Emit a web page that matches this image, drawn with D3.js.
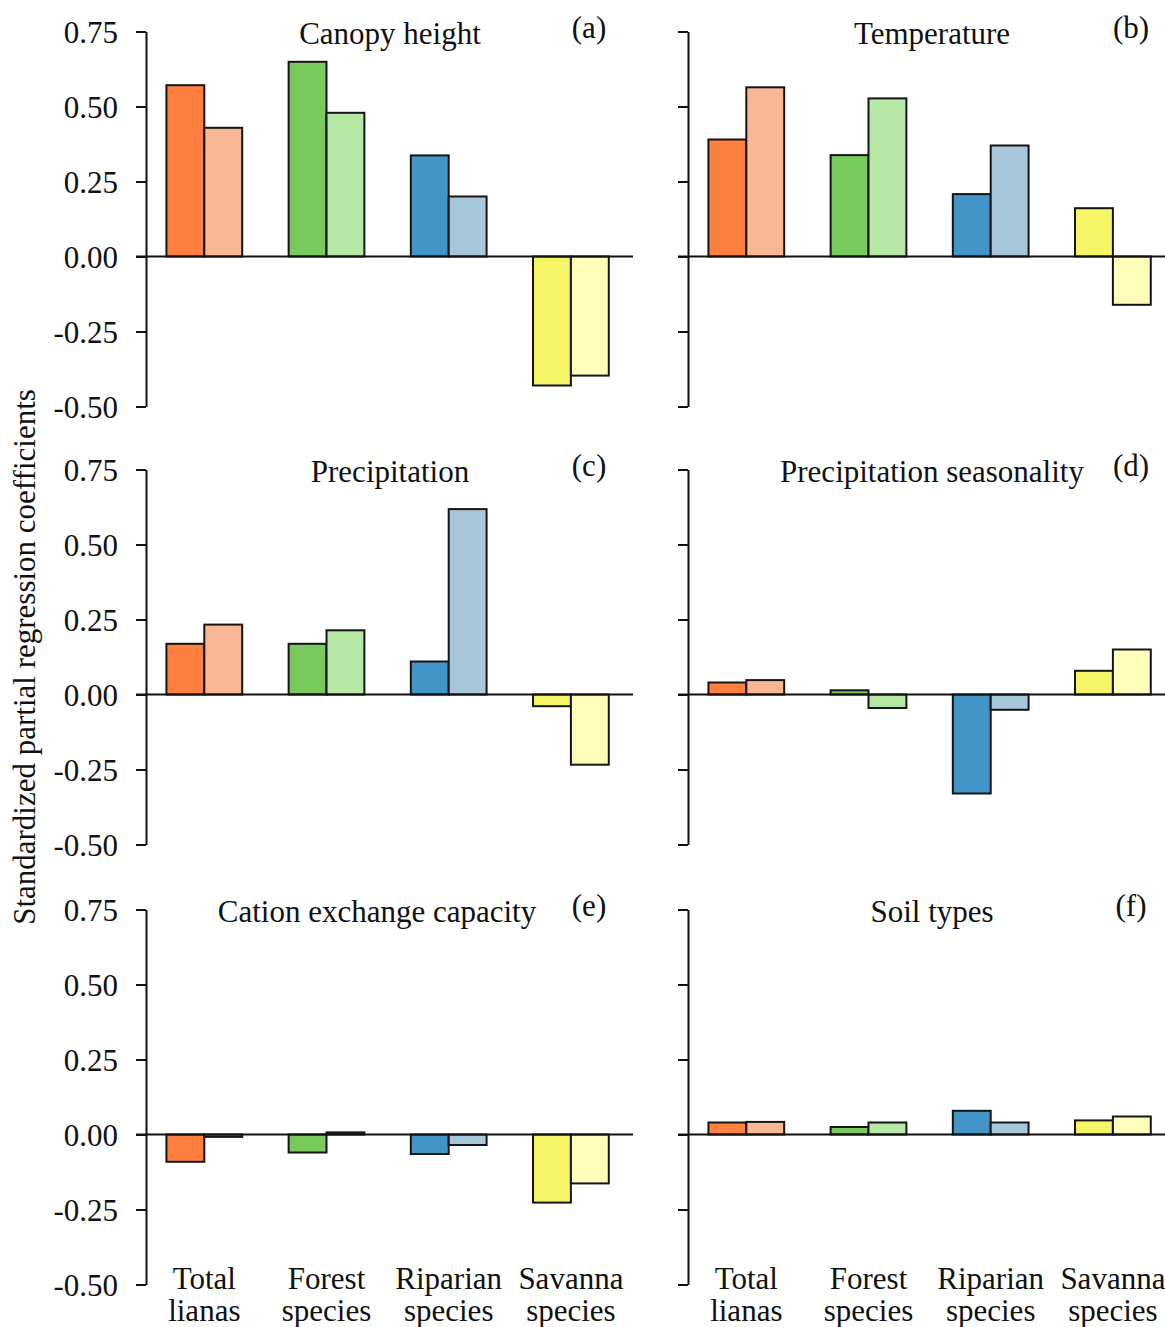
<!DOCTYPE html>
<html>
<head>
<meta charset="utf-8">
<script src="https://cdn.jsdelivr.net/npm/d3@7"></script>
<style>
  html, body { margin: 0; padding: 0; background: #fff; }
  svg { display: block; }
  text { font-family: "Liberation Serif", "Times New Roman", serif; fill: #111; }
</style>
</head>
<body>
<svg id="chart" width="1165" height="1327"></svg>
<script>
// Liana groups shown along the x axis (two-line labels)
const categories = ["Total lianas", "Forest species", "Riparian species", "Savanna species"];
const categoryLines = [["Total", "lianas"], ["Forest", "species"], ["Riparian", "species"], ["Savanna", "species"]];
const seriesKeys = ["first", "second"];

// Predictor names and panel letters
const panelTitles = ["Canopy height", "Temperature", "Precipitation",
                     "Precipitation seasonality", "Cation exchange capacity", "Soil types"];
const panelTags = ["(a)", "(b)", "(c)", "(d)", "(e)", "(f)"];

// Standardized coefficients: first (dark) and second (light) bar of each group
const canopyFirst   = [0.571, 0.649, 0.337, -0.430];
const canopySecond  = [0.429, 0.479, 0.200, -0.397];
const tempFirst     = [0.390, 0.338, 0.208, 0.161];
const tempSecond    = [0.564, 0.527, 0.370, -0.161];
const precFirst     = [0.169, 0.169, 0.110, -0.039];
const precSecond    = [0.233, 0.214, 0.618, -0.234];
const seasonFirst   = [0.040, 0.014, -0.330, 0.079];
const seasonSecond  = [0.048, -0.045, -0.051, 0.150];
const cecFirst      = [-0.091, -0.060, -0.065, -0.227];
const cecSecond     = [-0.008, 0.007, -0.035, -0.163];
const soilFirst     = [0.040, 0.025, 0.079, 0.047];
const soilSecond    = [0.042, 0.040, 0.040, 0.060];

// Y axis ticks
const tickValues = [0.75, 0.50, 0.25, 0.00, -0.25, -0.50];
const tickLabels = ["0.75", "0.50", "0.25", "0.00", "-0.25", "-0.50"];

// Group colours: saturated for the first bar, pale for the second
const darkColors  = ["#FE7F3E", "#79C95D", "#4394C9", "#F5F566"];
const lightColors = ["#F9B795", "#B7E7A4", "#A8C6DA", "#FEFEBA"];

const panelValues = [
  [canopyFirst, canopySecond],
  [tempFirst, tempSecond],
  [precFirst, precSecond],
  [seasonFirst, seasonSecond],
  [cecFirst, cecSecond],
  [soilFirst, soilSecond]
];

// ---- layout ----
const svg = d3.select("#chart");
svg.append("rect").attr("width", 1165).attr("height", 1327).attr("fill", "#fff");

const fontSize = 31;
const axisX = [146, 688];             // vertical axis position of left / right column
const rowTop = [31.5, 469.5, 909.5];  // y of the 0.75 tick in each row
const plotH = 375;
const plotW = 487;
const titleOffset = [244, 244, 244, 244, 231, 244];
const tagOffset = 443;

panelValues.forEach((vals, p) => {
  const col = p % 2, row = Math.floor(p / 2);
  const ax = axisX[col], top = rowTop[row];
  const g = svg.append("g");

  const y = d3.scaleLinear().domain([-0.5, 0.75]).range([top + plotH, top]);
  const x0 = d3.scaleBand().domain(categories)
    .range([ax - 2.8, ax + 486]).paddingInner(0.38).paddingOuter(0.19);
  const x1 = d3.scaleBand().domain(seriesKeys).range([0, x0.bandwidth()]);

  // y axis (labels only on the left column)
  const yAxis = d3.axisLeft(y)
    .tickValues(tickValues)
    .tickSize(10).tickSizeOuter(0).tickPadding(18)
    .tickFormat((d, i) => col === 0 ? tickLabels[i] : "");
  const axG = g.append("g").attr("transform", `translate(${ax},0)`).call(yAxis);
  axG.selectAll("path, line").attr("stroke", "#111").attr("stroke-width", 2);
  axG.selectAll("text").attr("font-size", fontSize).attr("fill", "#111").attr("dy", "0.34em");

  // paired bars per group
  const rows = categories.map((c, i) => ({ c, i, v: [vals[0][i], vals[1][i]] }));
  const grp = g.selectAll("g.grp").data(rows).join("g")
    .attr("class", "grp")
    .attr("transform", d => `translate(${x0(d.c)},0)`);
  grp.selectAll("rect").data(d => seriesKeys.map((k, s) => ({ k, s, v: d.v[s], i: d.i })))
    .join("rect")
    .attr("x", d => x1(d.k))
    .attr("width", x1.bandwidth())
    .attr("y", d => y(Math.max(0, d.v)))
    .attr("height", d => Math.abs(y(d.v) - y(0)))
    .attr("fill", d => d.s === 0 ? darkColors[d.i] : lightColors[d.i])
    .attr("stroke", "#151515")
    .attr("stroke-width", 2);

  // zero reference line
  g.append("line")
    .attr("x1", ax - 10).attr("x2", ax + plotW)
    .attr("y1", y(0)).attr("y2", y(0))
    .attr("stroke", "#111").attr("stroke-width", 2);

  // panel title and tag
  g.append("text")
    .attr("x", ax + titleOffset[p]).attr("y", top + 12)
    .attr("text-anchor", "middle").attr("font-size", fontSize)
    .text(panelTitles[p]);
  g.append("text")
    .attr("x", ax + tagOffset).attr("y", top + 6)
    .attr("text-anchor", "middle").attr("font-size", fontSize)
    .text(panelTags[p]);

  // category labels under the bottom row
  if (row === 2) {
    categories.forEach((c, i) => {
      const cx = x0(c) + x0.bandwidth() / 2;
      const t = g.append("text").attr("text-anchor", "middle").attr("font-size", fontSize);
      t.append("tspan").attr("x", cx).attr("y", 1289).text(categoryLines[i][0]);
      t.append("tspan").attr("x", cx).attr("y", 1321).text(categoryLines[i][1]);
    });
  }
});

// shared y axis title
svg.append("text")
  .attr("transform", "translate(35,657) rotate(-90)")
  .attr("text-anchor", "middle").attr("font-size", fontSize)
  .text("Standardized partial regression coefficients");
</script>
</body>
</html>
